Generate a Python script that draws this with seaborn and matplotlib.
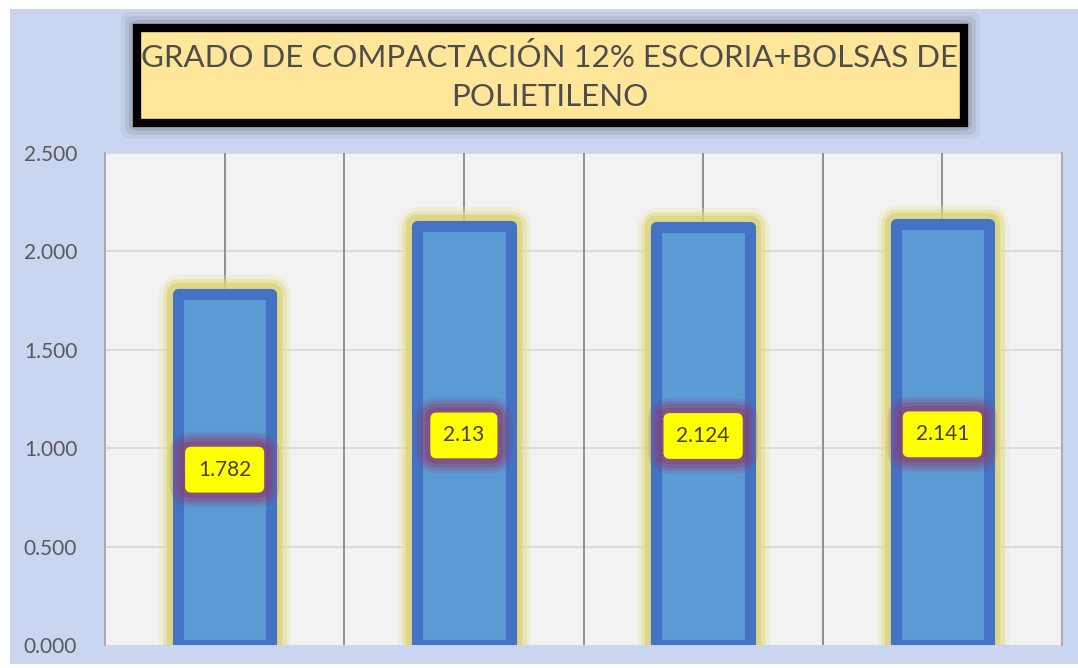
import matplotlib
matplotlib.use('Agg')
import matplotlib.pyplot as plt
import matplotlib.patheffects as pe
from matplotlib.patches import FancyBboxPatch
import seaborn as sns

# data
categories = ['1', '2', '3', '4']
values = [1.782, 2.13, 2.124, 2.141]
value_labels = ['1.782', '2.13', '2.124', '2.141']
y_ticks = [0, 0.5, 1.0, 1.5, 2.0, 2.5]
y_tick_labels = ['0.000', '0.500', '1.000', '1.500', '2.000', '2.500']
title = 'GRADO DE COMPACTACIÓN 12% ESCORIA+BOLSAS DE\nPOLIETILENO'

sns.set_style('white')
plt.rcParams['font.family'] = ['Lato', 'DejaVu Sans']

fig = plt.figure(figsize=(10.78, 6.68), dpi=100)
fig.patch.set_facecolor('white')

# background panel (flat colour in place of the paper texture)
bg = FancyBboxPatch((10 / 1078, 4 / 668), 1068 / 1078, 655 / 668,
                    boxstyle='square,pad=0', transform=fig.transFigure,
                    facecolor='#cad6f0', edgecolor='none', zorder=-10)
fig.patches.append(bg)

ax = fig.add_axes([105 / 1078, 23 / 668, 957 / 1078, 492 / 668])
ax.set_zorder(1)
ax.set_facecolor('#f2f2f2')

# gridlines
for y in y_ticks[1:]:
    ax.axhline(y, color='#d9d9d9', lw=1.3, zorder=0)
for i in range(len(categories)):
    ax.axvline(i, color='#7f7f7f', lw=1.2, zorder=0.5)
for i in range(len(categories) - 1):
    ax.axvline(i + 0.5, color='#7f7f7f', lw=1.2, zorder=0.5)

sns.barplot(x=categories, y=values, color='#5b9bd5', width=0.39,
            edgecolor='#4472c4', linewidth=8, saturation=1, ax=ax, zorder=2)

# yellow glow around the bars
for p in ax.patches:
    p.set_joinstyle('round')
    p.set_path_effects([
        pe.Stroke(linewidth=28, foreground='#ebe6a8', alpha=0.3),
        pe.Stroke(linewidth=22, foreground='#e0da80', alpha=0.45),
        pe.Stroke(linewidth=16, foreground='#d6cf6a', alpha=0.6),
        pe.Normal(),
    ])

# data labels with purple glow
for i, (v, lab) in enumerate(zip(values, value_labels)):
    for pad, rs, a in [(1.35, 1.1, 0.15), (1.2, 0.95, 0.22), (1.05, 0.8, 0.3), (0.88, 0.6, 0.45)]:
        ax.text(i, v / 2, lab, ha='center', va='center', fontsize=15, color='none',
                zorder=4,
                bbox=dict(boxstyle=f'round,pad={pad},rounding_size={rs}',
                          facecolor='#8e3c6e', edgecolor='none', alpha=a))
    ax.text(i, v / 2, lab, ha='center', va='center', fontsize=15, color='#404040',
            zorder=5,
            bbox=dict(boxstyle='round,pad=0.62,rounding_size=0.3',
                      facecolor='#ffff00', edgecolor='none'))

ax.set_xlim(-0.5, len(categories) - 0.5)
ax.set_ylim(0, 2.5)
ax.set_yticks(y_ticks)
ax.set_yticklabels(y_tick_labels)
ax.set_xticks([])
ax.set_xlabel('')
ax.tick_params(axis='y', length=0, pad=20, labelsize=15, labelcolor='#595959')
for side in ['top', 'bottom']:
    ax.spines[side].set_visible(False)
for side in ['left', 'right']:
    ax.spines[side].set_color('#a6a6a6')
    ax.spines[side].set_linewidth(1.3)

# title box with soft shadow
x0, y0, w, h = 137 / 1078, 545 / 668, 827 / 1078, 95 / 668
for k, a in [(16, 0.07), (12, 0.1), (8, 0.14), (4, 0.2)]:
    sh = FancyBboxPatch((x0 - k / 1078, y0 - k / 668), w + 2 * k / 1078, h + 2 * k / 668,
                        boxstyle='round,pad=0,rounding_size=0.01', transform=fig.transFigure,
                        facecolor='#4a4a4a', edgecolor='none', alpha=a, zorder=1)
    fig.patches.append(sh)
box = FancyBboxPatch((x0, y0), w, h, boxstyle='square,pad=0', transform=fig.transFigure,
                     facecolor='#ffe699', edgecolor='black', linewidth=6, zorder=2)
fig.patches.append(box)
fig.text(550 / 1078, 1 - 77 / 668, title, ha='center', va='center', fontsize=22.5,
         color='#4d4d4d', linespacing=1.45, zorder=3)

fig.savefig('out.png', dpi=100)
